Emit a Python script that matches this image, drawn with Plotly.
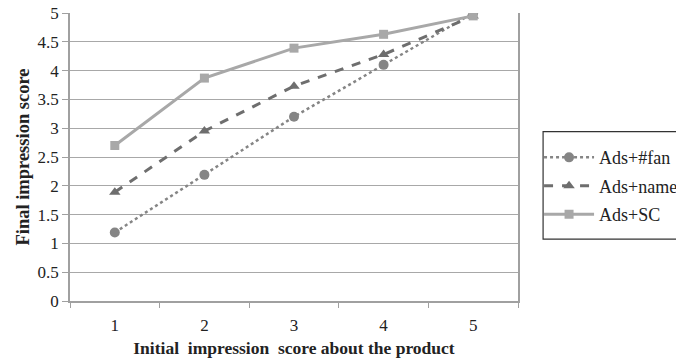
import plotly.graph_objects as go

# Initial impression score categories
categories = ["1", "2", "3", "4", "5"]

# Final impression score per advertising condition
fan_scores = [1.19, 2.19, 3.20, 4.10, 5.00]
name_scores = [1.89, 2.95, 3.73, 4.28, 4.95]
sc_scores = [2.70, 3.87, 4.39, 4.63, 4.95]

y_ticks = [0, 0.5, 1, 1.5, 2, 2.5, 3, 3.5, 4, 4.5, 5]
y_labels = ["0", "0.5", "1", "1.5", "2", "2.5", "3", "3.5", "4", "4.5", "5"]

serif = "'Liberation Serif', 'Times New Roman', serif"

fig = go.Figure()
fig.add_trace(go.Scatter(
    x=categories, y=fan_scores, name="Ads+#fan", mode="lines+markers",
    legendgroup="fan",
    line=dict(color="#858585", width=2.5, dash="dot"),
    marker=dict(symbol="circle", size=10, color="#858585"),
))
fig.add_trace(go.Scatter(
    x=categories, y=name_scores, name="Ads+name", mode="lines+markers",
    legendgroup="name",
    line=dict(color="#6e6e6e", width=3, dash="dash"),
    marker=dict(symbol="triangle-up", size=10, color="#6e6e6e"),
))
fig.add_trace(go.Scatter(
    x=categories, y=sc_scores, name="Ads+SC", mode="lines+markers",
    legendgroup="sc",
    line=dict(color="#a8a8a8", width=3),
    marker=dict(symbol="square", size=9, color="#a8a8a8"),
))

# Frame around the legend, extending to the right edge of the figure
fig.add_shape(
    type="rect", xref="paper", yref="paper",
    x0=1.056, x1=1.60, y0=0.215, y1=0.588,
    line=dict(color="#333333", width=1.2), fillcolor="rgba(0,0,0,0)",
    layer="above",
)

fig.update_layout(
    width=676, height=360,
    margin=dict(l=70, r=158, t=13, b=59, autoexpand=False),
    paper_bgcolor="white", plot_bgcolor="white",
    font=dict(family=serif, size=17, color="#222222"),
    showlegend=True,
    legend=dict(
        x=1.047, y=0.562, xanchor="left", yanchor="top",
        borderwidth=0, bgcolor="rgba(0,0,0,0)",
        font=dict(family=serif, size=18, color="#222222"),
        itemwidth=50, tracegroupgap=2,
    ),
    xaxis=dict(
        type="category", range=[-0.5, 4.5],
        tickson="boundaries", ticks="outside", ticklen=5, tickcolor="#a0a0a0",
        ticklabelstandoff=8,
        showline=True, linecolor="#a0a0a0", linewidth=1.5,
        showgrid=False, zeroline=False,
        tickfont=dict(family=serif, size=17),
        title=dict(text="<b>Initial  impression  score about the product</b>",
                   font=dict(family=serif, size=17.5), standoff=8),
    ),
    yaxis=dict(
        range=[0, 5], tickvals=y_ticks, ticktext=y_labels,
        ticks="outside", ticklen=6, tickcolor="#a0a0a0",
        showline=True, mirror=True, linecolor="#a0a0a0", linewidth=1.5,
        showgrid=True, gridcolor="#a8a8a8", gridwidth=1.2,
        zeroline=False,
        tickfont=dict(family=serif, size=17),
        title=dict(text="<b>Final impression score</b>",
                   font=dict(family=serif, size=18.5), standoff=3),
    ),
)

fig.write_html("out.html")
